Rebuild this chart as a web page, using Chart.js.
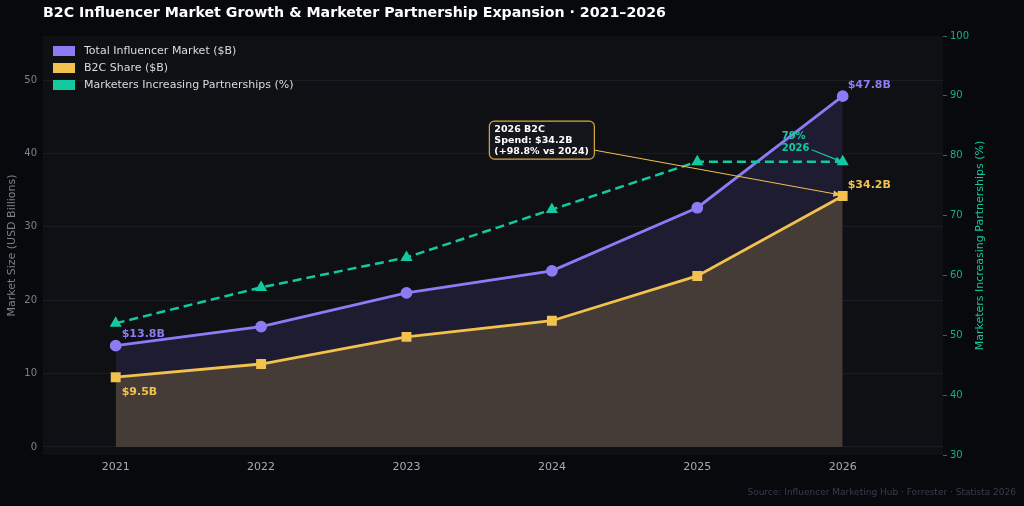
<!DOCTYPE html>
<html>
<head>
<meta charset="utf-8">
<script src="https://cdn.jsdelivr.net/npm/chart.js@4.4.1/dist/chart.umd.min.js"></script>
<style>
  html, body { margin: 0; padding: 0; background: #08090c; }
  #wrap { width: 1024px; height: 506px; }
</style>
</head>
<body>
<div id="wrap"><canvas id="chart1" width="1024" height="506"></canvas></div>
<script>
// data
var years = [2021, 2022, 2023, 2024, 2025, 2026];
var totalMarket = [13.8, 16.4, 21.0, 24.0, 32.6, 47.8];
var b2cShare = [9.5, 11.3, 15.0, 17.2, 23.3, 34.2];
var partnerships = [52, 58, 63, 71, 79, 79];
var leftTicks = [0, 10, 20, 30, 40, 50];
var rightTicks = [30, 40, 50, 60, 70, 80, 90, 100];

var FONT = "'DejaVu Sans', sans-serif";
var PURPLE = '#8b7cf6', GOLD = '#f2c14e', TEAL = '#12c9a0';

function pts(vals) {
    return years.map(function(y, i) { return { x: y, y: vals[i] }; });
}

function arrow(c, x1, y1, x2, y2, color, w, head) {
    var ang = Math.atan2(y2 - y1, x2 - x1);
    c.save();
    c.strokeStyle = color;
    c.fillStyle = color;
    c.lineWidth = w;
    c.beginPath();
    c.moveTo(x1, y1);
    c.lineTo(x2 - Math.cos(ang) * head * 0.8, y2 - Math.sin(ang) * head * 0.8);
    c.stroke();
    c.beginPath();
    c.moveTo(x2, y2);
    c.lineTo(x2 - head * Math.cos(ang - 0.4), y2 - head * Math.sin(ang - 0.4));
    c.lineTo(x2 - head * Math.cos(ang + 0.4), y2 - head * Math.sin(ang + 0.4));
    c.closePath();
    c.fill();
    c.restore();
}

// background, plot area
var bgPlugin = {
    id: 'bg',
    beforeDraw: function(chart) {
        var c = chart.ctx, a = chart.chartArea;
        c.save();
        c.fillStyle = '#08090c';
        c.fillRect(0, 0, chart.width, chart.height);
        c.fillStyle = '#0f1014';
        c.fillRect(a.left, a.top, a.right - a.left, a.bottom - a.top);
        c.restore();
    }
};

// title, legend, labels, annotations
var extrasPlugin = {
    id: 'extras',
    afterDatasetsDraw: function(chart) {
        var c = chart.ctx, a = chart.chartArea;
        var xs = chart.scales.x, yl = chart.scales.y, yr = chart.scales.y1;
        var n = years.length - 1;
        c.save();

        // title
        c.fillStyle = '#ffffff';
        c.font = 'bold 14.2px ' + FONT;
        c.textBaseline = 'middle';
        c.textAlign = 'left';
        c.fillText('B2C Influencer Market Growth & Marketer Partnership Expansion \u00b7 2021\u20132026', 43, 13);

        // legend
        var items = [
            ['Total Influencer Market ($B)', PURPLE],
            ['B2C Share ($B)', GOLD],
            ['Marketers Increasing Partnerships (%)', TEAL]
        ];
        c.font = '11px ' + FONT;
        items.forEach(function(it, i) {
            var y = a.top + 15 + i * 17;
            c.fillStyle = it[1];
            c.fillRect(a.left + 10, y - 5, 22, 10);
            c.fillStyle = '#dcdce0';
            c.fillText(it[0], a.left + 41, y);
        });

        // value labels
        c.font = 'bold 11px ' + FONT;
        c.fillStyle = PURPLE;
        c.fillText('$' + totalMarket[0].toFixed(1) + 'B', xs.getPixelForValue(years[0]) + 6, yl.getPixelForValue(totalMarket[0]) - 12);
        c.fillText('$' + totalMarket[n].toFixed(1) + 'B', xs.getPixelForValue(years[n]) + 5, yl.getPixelForValue(totalMarket[n]) - 11);
        c.fillStyle = GOLD;
        c.fillText('$' + b2cShare[0].toFixed(1) + 'B', xs.getPixelForValue(years[0]) + 6, yl.getPixelForValue(b2cShare[0]) + 15);
        c.fillText('$' + b2cShare[n].toFixed(1) + 'B', xs.getPixelForValue(years[n]) + 5, yl.getPixelForValue(b2cShare[n]) - 11);

        // 79% 2026 note
        var px = xs.getPixelForValue(years[n]), py = yr.getPixelForValue(partnerships[n]);
        c.fillStyle = TEAL;
        c.font = 'bold 10px ' + FONT;
        c.fillText(partnerships[n] + '%', px - 61, py - 25);
        c.fillText(String(years[n]), px - 61, py - 13);
        arrow(c, px - 31, py - 12, px - 1, py, TEAL, 1.2, 7);

        // B2C spend annotation
        var growth = (b2cShare[n] / b2cShare[3] - 1) * 100;
        var bx = xs.getPixelForValue(2023.57), by = yl.getPixelForValue(44.4);
        var bw = 105, bh = 38;
        arrow(c, bx + bw, by + 29, xs.getPixelForValue(years[n]) - 2, yl.getPixelForValue(b2cShare[n]) - 1, GOLD, 1, 8);
        c.beginPath();
        c.roundRect(bx, by, bw, bh, 5);
        c.fillStyle = '#15161c';
        c.fill();
        c.strokeStyle = '#d9a93f';
        c.lineWidth = 1.2;
        c.stroke();
        c.fillStyle = '#ffffff';
        c.font = 'bold 9.5px ' + FONT;
        c.fillText(years[n] + ' B2C', bx + 5, by + 8);
        c.fillText('Spend: $' + b2cShare[n].toFixed(1) + 'B', bx + 5, by + 19);
        c.fillText('(+' + growth.toFixed(1) + '% vs ' + years[3] + ')', bx + 5, by + 30);

        // right axis title
        c.save();
        c.translate(980, (a.top + a.bottom) / 2);
        c.rotate(-Math.PI / 2);
        c.textAlign = 'center';
        c.fillStyle = TEAL;
        c.font = '11px ' + FONT;
        c.fillText('Marketers Increasing Partnerships (%)', 0, 0);
        c.restore();

        // source
        c.textAlign = 'right';
        c.fillStyle = '#3a3d52';
        c.font = '9px ' + FONT;
        c.fillText('Source: Influencer Marketing Hub \u00b7 Forrester \u00b7 Statista 2026', 1016, 493);

        c.restore();
    }
};

var ctx = document.getElementById('chart1').getContext('2d');
var myChart = new Chart(ctx, {
    type: 'line',
    data: {
        datasets: [{
            label: 'Total Influencer Market ($B)',
            data: pts(totalMarket),
            yAxisID: 'y',
            order: 1,
            borderColor: PURPLE,
            backgroundColor: '#1d1c30',
            fill: '+1',
            pointStyle: 'circle',
            pointRadius: 4.5,
            pointBackgroundColor: PURPLE,
            pointBorderColor: PURPLE,
            borderWidth: 2.8,
            tension: 0
        },
        {
            label: 'B2C Share ($B)',
            data: pts(b2cShare),
            yAxisID: 'y',
            order: 0,
            borderColor: GOLD,
            backgroundColor: '#463c37',
            fill: 'origin',
            pointStyle: 'rect',
            pointRadius: 5,
            pointBackgroundColor: GOLD,
            pointBorderColor: GOLD,
            borderWidth: 2.8,
            tension: 0
        },
        {
            label: 'Marketers Increasing Partnerships (%)',
            data: pts(partnerships),
            yAxisID: 'y1',
            order: -1,
            borderColor: TEAL,
            backgroundColor: TEAL,
            fill: false,
            borderDash: [9, 5],
            pointStyle: 'triangle',
            pointRadius: 4.5,
            pointBackgroundColor: TEAL,
            pointBorderColor: TEAL,
            borderWidth: 2.5,
            tension: 0
        }]
    },
    options: {
        responsive: false,
        animation: false,
        layout: { padding: { top: 36, left: 0, right: 0, bottom: 0 } },
        plugins: {
            legend: { display: false },
            tooltip: { enabled: false }
        },
        scales: {
            x: {
                type: 'linear',
                min: 2020.5,
                max: 2026.69,
                afterBuildTicks: function(s) { s.ticks = years.map(function(v) { return { value: v }; }); },
                afterFit: function(s) { s.height = 51; },
                grid: { display: false, drawTicks: false },
                border: { display: false },
                ticks: {
                    color: '#a8a8b3',
                    font: { size: 11, family: FONT },
                    padding: 6,
                    callback: function(v) { return String(v); }
                }
            },
            y: {
                position: 'left',
                min: -1.1,
                max: 56,
                afterBuildTicks: function(s) { s.ticks = leftTicks.map(function(v) { return { value: v }; }); },
                afterFit: function(s) { s.width = 43; },
                grid: { color: '#1b1c23', drawTicks: false },
                border: { display: false },
                ticks: { color: '#80808c', font: { size: 10, family: FONT }, padding: 6 },
                title: {
                    display: true,
                    text: 'Market Size (USD Billions)',
                    color: '#80808c',
                    font: { size: 11, family: FONT },
                    padding: { top: 6, bottom: 0 }
                }
            },
            y1: {
                position: 'right',
                min: 30,
                max: 100,
                afterBuildTicks: function(s) { s.ticks = rightTicks.map(function(v) { return { value: v }; }); },
                afterFit: function(s) { s.width = 81; },
                grid: { drawOnChartArea: false, color: '#2a6d5e', tickLength: 4 },
                border: { display: false },
                ticks: { color: '#14b08e', font: { size: 10, family: FONT }, padding: 3 }
            }
        }
    },
    plugins: [bgPlugin, extrasPlugin]
});
</script>
</body>
</html>
